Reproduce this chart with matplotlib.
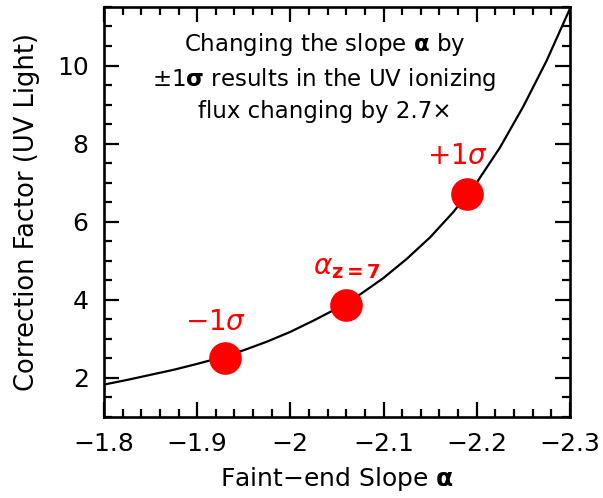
import matplotlib
matplotlib.use('Agg')
import matplotlib.pyplot as plt
from matplotlib.ticker import MultipleLocator, FixedLocator, FixedFormatter

plt.rcParams['font.family'] = 'DejaVu Sans'
plt.rcParams['mathtext.fontset'] = 'dejavusans'

# curve (faint-end slope vs correction factor)
curve_alpha = [-1.800, -1.825, -1.850, -1.875, -1.900, -1.925, -1.950,
               -1.975, -2.000, -2.025, -2.050, -2.075, -2.100, -2.125,
               -2.150, -2.175, -2.200, -2.225, -2.250, -2.275, -2.300]
curve_corr = [1.83, 1.95, 2.08, 2.21, 2.36, 2.52, 2.71,
              2.93, 3.18, 3.47, 3.78, 4.14, 4.56, 5.05,
              5.60, 6.25, 7.00, 7.90, 8.95, 10.12, 11.45]

# the three marked slopes
pt_alpha = [-1.93, -2.06, -2.19]
pt_corr = [2.52, 3.88, 6.72]
pt_labels = [r'$-1\sigma$', r'$\alpha_{\mathbf{z=7}}$', r'$+1\sigma$']

xticks = [-1.8, -1.9, -2.0, -2.1, -2.2, -2.3]
xtick_labels = ['\u22121.8', '\u22121.9', '\u22122', '\u22122.1', '\u22122.2', '\u22122.3']
yticks = [2, 4, 6, 8, 10]

fig = plt.figure(figsize=(6.03, 4.98), dpi=100)
ax = fig.add_axes([0.1725, 0.1627, 0.7725, 0.8233])

ax.plot(curve_alpha, curve_corr, color='black', lw=1.6, zorder=2)
ax.plot(pt_alpha, pt_corr, 'o', color='#ff0000', ms=23.5, mec='none', zorder=3)

# label offsets (points) for each red marker
offs = [(-7, 26), (0, 27), (-7, 27)]
for a, c, lab, o in zip(pt_alpha, pt_corr, pt_labels, offs):
    ax.annotate(lab, (a, c), xytext=o, textcoords='offset points',
                ha='center', va='center', color='#ff0000', fontsize=20)

ax.text(0.473, 0.829, r'Changing the slope $\mathbf{\alpha}$ by' + '\n'
        + r'$\pm1\mathbf{\sigma}$ results in the UV ionizing' + '\n'
        + 'flux changing by 2.7\u00d7',
        transform=ax.transAxes, ha='center', va='center',
        fontsize=16.5, linespacing=1.4)

ax.set_xlim(-1.8, -2.3)
ax.set_ylim(1, 11.5)
ax.xaxis.set_major_locator(FixedLocator(xticks))
ax.xaxis.set_major_formatter(FixedFormatter(xtick_labels))
ax.xaxis.set_minor_locator(MultipleLocator(0.02))
ax.set_yticks(yticks)
ax.yaxis.set_minor_locator(MultipleLocator(0.5))

ax.tick_params(which='both', direction='in', top=True, right=True,
               width=1.6, labelsize=18)
ax.tick_params(axis='x', which='major', length=11, pad=11)
ax.tick_params(axis='y', which='major', length=11, pad=11)
ax.tick_params(which='minor', length=5.5)
for s in ax.spines.values():
    s.set_linewidth(1.9)

ax.set_xlabel(r'Faint$-$end Slope $\mathbf{\alpha}$', fontsize=18, labelpad=6)
ax.set_ylabel('Correction Factor (UV Light)', fontsize=18.5, labelpad=12)

fig.savefig('out.png', dpi=100)
